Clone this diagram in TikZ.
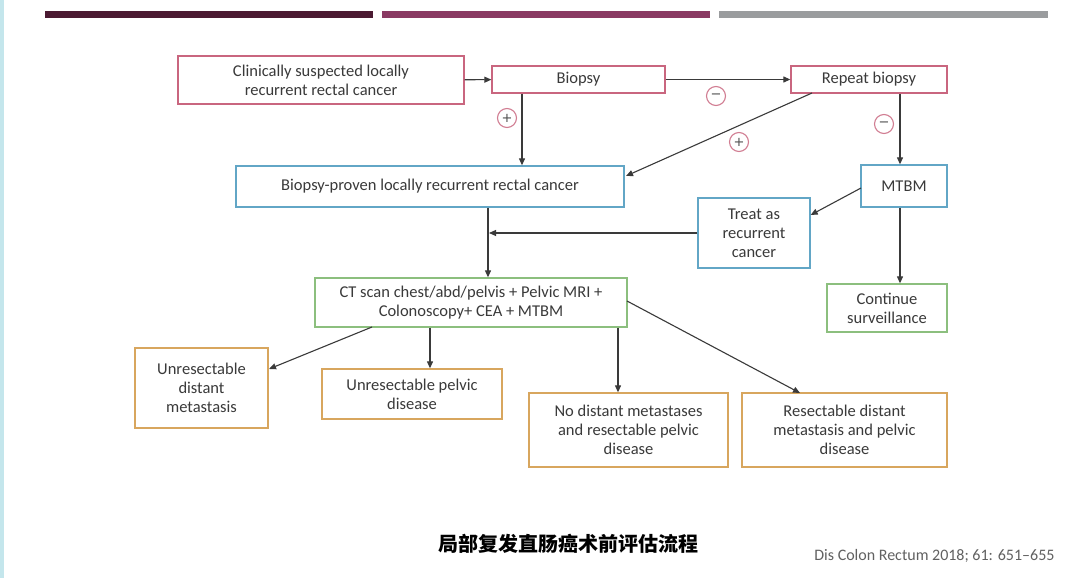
\documentclass[tikz,border=0pt]{standalone}
\usepackage{fontspec}
\setmainfont{Carlito}
\newfontfamily\cjk{Noto Sans CJK SC}
\newfontfamily\signfont{DejaVu Sans}
\usetikzlibrary{arrows.meta}
\definecolor{txt}{HTML}{3A3A3A}
\definecolor{pinkb}{HTML}{C9667F}
\definecolor{blueb}{HTML}{62A6C6}
\definecolor{greenb}{HTML}{8CBF7E}
\definecolor{orangeb}{HTML}{D8A65E}
\definecolor{barA}{HTML}{4B1A32}
\definecolor{barB}{HTML}{8A3A63}
\definecolor{barC}{HTML}{9A9C9E}
\definecolor{edge}{HTML}{C4E6EC}
\definecolor{arr}{HTML}{3A3A3A}
\tikzset{
  box/.style={draw, line width=1.3pt, inner sep=0pt, align=center, text=txt,
    font=\fontsize{16.5}{19}\selectfont},
  pinkbox/.style={box, draw=pinkb},
  bluebox/.style={box, draw=blueb},
  greenbox/.style={box, draw=greenb},
  orangebox/.style={box, draw=orangeb},
  conn/.style={draw=arr, line width=1.1pt, -{Triangle[length=7pt,width=6pt]}},
  sign/.style={circle, draw=pinkb!85, line width=1.1pt, minimum size=19pt, inner sep=0pt,
    text=txt!90, font=\signfont\fontsize{13}{13}\selectfont},
  bar/.style={line width=7pt}
}
\begin{document}
\begin{tikzpicture}[x=1pt,y=-1pt]
\useasboundingbox (0,0) rectangle (1080,578);
\fill[white] (0,0) rectangle (1080,578);
\fill[edge] (0,0) rectangle (4,578);
% top bars
\draw[bar, barA] (45,14.5) -- (373,14.5);
\draw[bar, barB] (382,14.5) -- (710,14.5);
\draw[bar, barC] (719,14.5) -- (1048,14.5);
% nodes
\node[pinkbox, minimum width=286pt, minimum height=48pt] (clin) at (321,80) {Clinically suspected locally\\recurrent rectal cancer};
\node[pinkbox, minimum width=173pt, minimum height=27pt] (bio) at (578.5,79.5) {Biopsy};
\node[pinkbox, minimum width=156pt, minimum height=27pt] (rep) at (869,79.5) {Repeat biopsy};
\node[bluebox, minimum width=388pt, minimum height=41pt] (prov) at (430,186.5) {Biopsy-proven locally recurrent rectal cancer};
\node[bluebox, minimum width=86pt, minimum height=42pt] (mtbm) at (904,186) {MTBM};
\node[bluebox, minimum width=112pt, minimum height=70pt] (treat) at (754,233) {Treat as\\recurrent\\cancer};
\node[greenbox, minimum width=312pt, minimum height=49pt] (ct) at (471,302.5) {CT scan chest/abd/pelvis + Pelvic MRI +\\Colonoscopy+ CEA + MTBM};
\node[greenbox, minimum width=120pt, minimum height=48pt] (cont) at (887,308) {Continue\\surveillance};
\node[orangebox, minimum width=133pt, minimum height=80pt] (udm) at (201.5,388) {Unresectable\\distant\\metastasis};
\node[orangebox, minimum width=180pt, minimum height=50pt] (upd) at (412,394) {Unresectable pelvic\\disease};
\node[orangebox, minimum width=199pt, minimum height=74pt] (nodm) at (628.5,430) {No distant metastases\\and resectable pelvic\\disease};
\node[orangebox, minimum width=205pt, minimum height=74pt] (rdm) at (844.5,430) {Resectable distant\\metastasis and pelvic\\disease};
% signs
\node[sign] (s1) at (716,96) {−};
\node[sign] (s2) at (507,118) {+};
\node[sign] (s3) at (739,142) {+};
\node[sign] (s4) at (884,124) {−};
% connectors
\coordinate (j) at (489,233);
\draw[conn] (clin) -- (bio);
\draw[conn] (bio) -- (rep);
\draw[conn] (bio.south -| 522,0) -- (prov.north -| 522,0);
\draw[conn] (812,93) -- (626,176);
\draw[conn] (rep.south -| 900,0) -- (mtbm.north -| 900,0);
\draw[conn] (861,188) -- (treat.east |- 0,215);
\draw[conn] (mtbm.south -| 900,0) -- (cont.north -| 900,0);
\draw[conn] (prov.south -| 488,0) -- (ct.north -| 488,0);
\draw[conn] (treat.west |- j) -- (j);
\draw[conn] (372,327) -- (269,369);
\draw[conn] (ct.south -| 430,0) -- (upd.north -| 430,0);
\draw[conn] (ct.south -| 618,0) -- (nodm.north -| 618,0);
\draw[conn] (627,301) -- (800,393);
% caption
\node[text=black, font=\cjk\bfseries\fontsize{20}{20}\selectfont] (cap) at (568,544) {局部复发直肠癌术前评估流程};
\node[anchor=east, text=txt!80, font=\fontsize{16}{16}\selectfont] (cite) at (1058,556) {Dis Colon Rectum 2018; 61: 651--655};
\end{tikzpicture}
\end{document}
